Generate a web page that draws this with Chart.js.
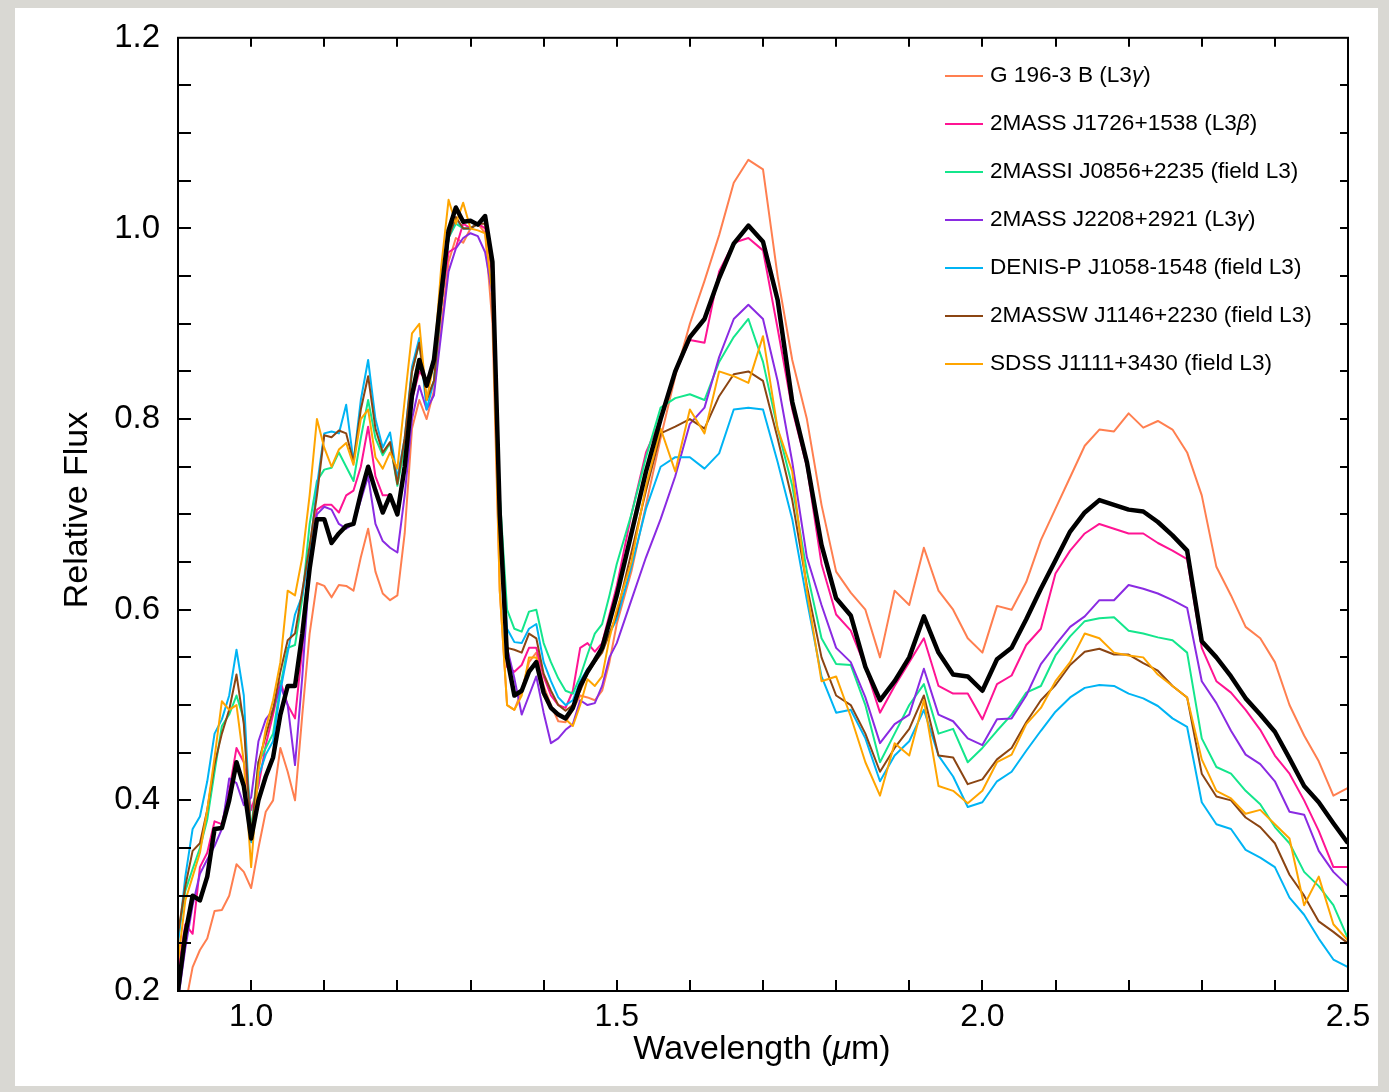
<!DOCTYPE html>
<html>
<head>
<meta charset="utf-8">
<title>Relative Flux spectra</title>
<script src="https://cdn.jsdelivr.net/npm/chart.js@4.4.1/dist/chart.umd.min.js"></script>
<style>
    html, body { margin: 0; padding: 0; }
    body { width: 1389px; height: 1092px; background: #d9d8d3; position: relative; overflow: hidden; }
    #panel { position: absolute; left: 15px; top: 8px; width: 1363px; height: 1078px; background: #fff; }
    #spec { position: absolute; left: 0; top: 0; }
</style>
</head>
<body>
<div id="panel"></div>
<canvas id="spec" width="1389" height="1092"></canvas>
<script>
/* ============================================
   Near-IR spectra of L3 dwarfs — data
   ============================================ */

// Wavelength grid (µm): 0.01 steps to 1.50, then 0.02 steps
const wavelength = [
    0.90, 0.91, 0.92, 0.93, 0.94, 0.95, 0.96, 0.97, 0.98, 0.99,
    1.00, 1.01, 1.02, 1.03, 1.04, 1.05, 1.06, 1.07, 1.08, 1.09,
    1.10, 1.11, 1.12, 1.13, 1.14, 1.15, 1.16, 1.17, 1.18, 1.19,
    1.20, 1.21, 1.22, 1.23, 1.24, 1.25, 1.26, 1.27, 1.28, 1.29,
    1.30, 1.31, 1.32, 1.33, 1.34, 1.35, 1.36, 1.37, 1.38, 1.39,
    1.40, 1.41, 1.42, 1.43, 1.44, 1.45, 1.46, 1.47, 1.48, 1.49,
    1.50,
    1.52, 1.54, 1.56, 1.58, 1.60, 1.62, 1.64, 1.66, 1.68, 1.70,
    1.72, 1.74, 1.76, 1.78, 1.80, 1.82, 1.84, 1.86, 1.88, 1.90,
    1.92, 1.94, 1.96, 1.98, 2.00, 2.02, 2.04, 2.06, 2.08, 2.10,
    2.12, 2.14, 2.16, 2.18, 2.20, 2.22, 2.24, 2.26, 2.28, 2.30,
    2.32, 2.34, 2.36, 2.38, 2.40, 2.42, 2.44, 2.46, 2.48, 2.50
];

// Target spectrum (thick black, not in legend)
const fluxTarget = [
    0.20, 0.26, 0.30, 0.295, 0.32, 0.37, 0.371, 0.40, 0.44, 0.415,
    0.36, 0.40, 0.425, 0.445, 0.49, 0.52, 0.52, 0.575, 0.643, 0.695,
    0.695, 0.67, 0.68, 0.688, 0.69, 0.722, 0.75, 0.725, 0.702, 0.72,
    0.70, 0.75, 0.825, 0.862, 0.835, 0.862, 0.932, 0.998, 1.022, 1.007,
    1.008, 1.004, 1.013, 0.965, 0.70, 0.55, 0.51, 0.515, 0.535, 0.545,
    0.513, 0.497, 0.49, 0.486, 0.497, 0.52, 0.535, 0.547, 0.56, 0.587,
    0.615,
    0.68, 0.745, 0.80, 0.85, 0.886, 0.905, 0.948, 0.984, 1.003, 0.986,
    0.925, 0.818, 0.755, 0.668, 0.612, 0.594, 0.54, 0.505, 0.525, 0.55,
    0.593, 0.555, 0.532, 0.53, 0.515, 0.548, 0.56, 0.59, 0.622, 0.652,
    0.682, 0.702, 0.715, 0.71, 0.705, 0.703, 0.692, 0.678, 0.662, 0.567,
    0.55, 0.53, 0.507, 0.49, 0.472, 0.444, 0.415, 0.398, 0.376, 0.355
];

const fluxG196 = [
    0.16, 0.185, 0.225, 0.243, 0.255, 0.284, 0.285, 0.30, 0.333, 0.325,
    0.308, 0.35, 0.388, 0.40, 0.455, 0.43, 0.40, 0.49, 0.575, 0.628,
    0.625, 0.613, 0.626, 0.625, 0.62, 0.655, 0.685, 0.64, 0.617, 0.61,
    0.615, 0.68, 0.79, 0.82, 0.80, 0.83, 0.90, 0.965, 0.99, 0.985,
    1.0, 1.005, 0.995, 0.90, 0.62, 0.50, 0.495, 0.515, 0.545, 0.555,
    0.52, 0.50, 0.483, 0.482, 0.495, 0.51, 0.508, 0.505, 0.515, 0.545,
    0.585,
    0.64, 0.71, 0.78, 0.845, 0.90, 0.945, 0.993, 1.048, 1.072, 1.062,
    0.95, 0.862, 0.80, 0.71, 0.64, 0.618, 0.60, 0.55, 0.62, 0.605,
    0.665, 0.62, 0.60, 0.57, 0.555, 0.604, 0.60, 0.629, 0.673, 0.706,
    0.739, 0.772, 0.789, 0.787, 0.806, 0.791, 0.798, 0.789, 0.765, 0.72,
    0.645, 0.615, 0.582, 0.57, 0.545, 0.50, 0.468, 0.441, 0.405, 0.413
];

const fluxJ1726 = [
    0.22, 0.27, 0.26, 0.33, 0.345, 0.378, 0.375, 0.41, 0.455, 0.44,
    0.39, 0.415, 0.458, 0.49, 0.525, 0.50, 0.486, 0.56, 0.66, 0.705,
    0.71, 0.71, 0.702, 0.72, 0.725, 0.75, 0.792, 0.74, 0.72, 0.72,
    0.70, 0.75, 0.82, 0.85, 0.84, 0.86, 0.92, 0.975, 0.98, 1.005,
    1.0, 1.005, 1.0, 0.95, 0.68, 0.54, 0.535, 0.542, 0.56, 0.56,
    0.53, 0.51, 0.50, 0.497, 0.515, 0.56, 0.565, 0.556, 0.565, 0.595,
    0.625,
    0.70, 0.765, 0.80, 0.848, 0.883, 0.88, 0.955, 0.985, 0.99, 0.977,
    0.895, 0.81, 0.75, 0.648, 0.595, 0.578, 0.54, 0.492, 0.52, 0.545,
    0.57, 0.52, 0.512, 0.512, 0.485, 0.522, 0.531, 0.563, 0.58, 0.638,
    0.662, 0.68, 0.69, 0.685, 0.68, 0.68, 0.67, 0.662, 0.653, 0.56,
    0.525, 0.513, 0.495, 0.474, 0.447, 0.428, 0.40, 0.368, 0.33, 0.33
];

const fluxJ0856 = [
    0.255, 0.305, 0.328, 0.35, 0.38, 0.43, 0.478, 0.49, 0.51, 0.485,
    0.368, 0.44, 0.455, 0.47, 0.52, 0.56, 0.563, 0.612, 0.69, 0.735,
    0.747, 0.749, 0.765, 0.75, 0.735, 0.78, 0.82, 0.78, 0.762, 0.775,
    0.73, 0.77, 0.85, 0.88, 0.82, 0.84, 0.92, 0.99, 1.005, 1.0,
    1.0, 1.005, 1.01, 0.96, 0.72, 0.60, 0.58, 0.577, 0.598, 0.60,
    0.565, 0.545, 0.528, 0.515, 0.512, 0.53, 0.553, 0.575, 0.585, 0.615,
    0.648,
    0.70, 0.76, 0.812, 0.822, 0.826, 0.82, 0.86, 0.886, 0.905, 0.86,
    0.79, 0.73, 0.64, 0.57, 0.543, 0.542, 0.50, 0.44, 0.47, 0.50,
    0.522, 0.47, 0.475, 0.44, 0.455, 0.473, 0.49, 0.513, 0.52, 0.552,
    0.572, 0.588, 0.591, 0.592, 0.578, 0.575, 0.571, 0.568, 0.555, 0.465,
    0.435, 0.428, 0.41, 0.396, 0.372, 0.355, 0.325, 0.31, 0.29, 0.255
];

const fluxJ2208 = [
    0.19, 0.245, 0.29, 0.323, 0.338, 0.352, 0.37, 0.423, 0.418, 0.395,
    0.403, 0.462, 0.485, 0.495, 0.52, 0.50, 0.437, 0.53, 0.645, 0.70,
    0.708, 0.705, 0.69, 0.685, 0.69, 0.715, 0.74, 0.69, 0.672, 0.665,
    0.66, 0.72, 0.80, 0.835, 0.81, 0.825, 0.89, 0.955, 0.979, 0.99,
    0.995, 0.992, 0.975, 0.93, 0.70, 0.56, 0.528, 0.49, 0.51, 0.53,
    0.492, 0.46, 0.465, 0.474, 0.48, 0.505, 0.50, 0.502, 0.52, 0.55,
    0.565,
    0.61, 0.655, 0.695, 0.74, 0.795, 0.812, 0.865, 0.905, 0.92, 0.905,
    0.84, 0.755, 0.655, 0.605, 0.56, 0.545, 0.508, 0.46, 0.48, 0.49,
    0.538, 0.49, 0.483, 0.465, 0.458, 0.485, 0.486, 0.51, 0.543, 0.563,
    0.582, 0.593, 0.61, 0.61, 0.626, 0.622, 0.617, 0.61, 0.602, 0.525,
    0.502, 0.473, 0.448, 0.438, 0.42, 0.388, 0.385, 0.347, 0.325, 0.31
];

const fluxJ1058 = [
    0.25, 0.32, 0.37, 0.383, 0.42, 0.47, 0.485, 0.51, 0.558, 0.51,
    0.356, 0.425, 0.448, 0.462, 0.515, 0.555, 0.595, 0.615, 0.66, 0.73,
    0.785, 0.787, 0.785, 0.815, 0.755, 0.82, 0.862, 0.80, 0.77, 0.786,
    0.738, 0.78, 0.855, 0.885, 0.81, 0.84, 0.92, 0.99, 1.01, 1.0,
    1.0, 1.005, 1.01, 0.96, 0.70, 0.58, 0.566, 0.565, 0.58, 0.585,
    0.545, 0.525, 0.508, 0.50, 0.505, 0.525, 0.538, 0.546, 0.56, 0.575,
    0.59,
    0.645, 0.706, 0.75, 0.76, 0.76, 0.748, 0.764, 0.81, 0.812, 0.81,
    0.755, 0.695, 0.61, 0.53, 0.492, 0.495, 0.465, 0.42, 0.447, 0.462,
    0.495, 0.447, 0.425, 0.393, 0.398, 0.42, 0.43, 0.452, 0.473, 0.493,
    0.508, 0.518, 0.521, 0.52, 0.512, 0.507, 0.499, 0.486, 0.477, 0.398,
    0.375, 0.37, 0.348, 0.34, 0.33, 0.298, 0.28, 0.255, 0.233, 0.225
];

const fluxJ1146 = [
    0.26, 0.31, 0.347, 0.355, 0.39, 0.438, 0.47, 0.495, 0.532, 0.48,
    0.362, 0.44, 0.468, 0.495, 0.535, 0.568, 0.575, 0.62, 0.667, 0.72,
    0.783, 0.781, 0.788, 0.785, 0.755, 0.81, 0.845, 0.79, 0.765, 0.776,
    0.732, 0.78, 0.85, 0.88, 0.82, 0.84, 0.92, 0.99, 1.012, 1.0,
    1.0, 1.005, 1.005, 0.955, 0.68, 0.56, 0.558, 0.555, 0.575, 0.57,
    0.533, 0.515, 0.50, 0.494, 0.50, 0.515, 0.533, 0.545, 0.555, 0.575,
    0.595,
    0.66, 0.725, 0.785, 0.792, 0.80, 0.79, 0.824, 0.847, 0.85, 0.84,
    0.78, 0.715, 0.625, 0.55, 0.51, 0.50, 0.47, 0.43, 0.455, 0.475,
    0.51, 0.447, 0.445, 0.417, 0.422, 0.443, 0.455, 0.482, 0.505, 0.521,
    0.542, 0.556, 0.559, 0.553, 0.553, 0.544, 0.536, 0.52, 0.508, 0.428,
    0.404, 0.40, 0.382, 0.372, 0.355, 0.322, 0.30, 0.273, 0.262, 0.25
];

const fluxJ1111 = [
    0.23, 0.295, 0.32, 0.345, 0.39, 0.445, 0.504, 0.495, 0.50, 0.44,
    0.33, 0.43, 0.475, 0.505, 0.545, 0.62, 0.615, 0.655, 0.72, 0.80,
    0.77, 0.75, 0.768, 0.775, 0.752, 0.80, 0.81, 0.76, 0.748, 0.765,
    0.748, 0.82, 0.89, 0.90, 0.82, 0.86, 0.96, 1.03, 1.005, 1.027,
    1.0, 0.998, 0.995, 0.93, 0.62, 0.50, 0.495, 0.51, 0.55, 0.55,
    0.51, 0.496, 0.49, 0.485, 0.478, 0.50, 0.527, 0.52, 0.53, 0.57,
    0.60,
    0.65, 0.73, 0.79, 0.745, 0.81, 0.785, 0.85, 0.845, 0.838, 0.887,
    0.79, 0.745, 0.62, 0.525, 0.53, 0.488, 0.44, 0.405, 0.46, 0.447,
    0.505, 0.415, 0.41, 0.397, 0.41, 0.44, 0.448, 0.48, 0.497, 0.525,
    0.545, 0.575, 0.57, 0.555, 0.552, 0.55, 0.532, 0.52, 0.508, 0.443,
    0.41, 0.402, 0.386, 0.39, 0.375, 0.36, 0.29, 0.32, 0.27, 0.253
];

// Axis labels and tick marks
const xTickLabels = [1.0, 1.5, 2.0, 2.5];
const yTickLabels = [0.2, 0.4, 0.6, 0.8, 1.0, 1.2];
const xTickMarks = [1.0, 1.1, 1.2, 1.3, 1.4, 1.5, 1.6, 1.7, 1.8, 1.9, 2.0, 2.1, 2.2, 2.3, 2.4];
const yTickMarks = [0.25, 0.3, 0.35, 0.4, 0.45, 0.5, 0.55, 0.6, 0.65, 0.7, 0.75, 0.8, 0.85, 0.9, 0.95, 1.0, 1.05, 1.1, 1.15];

// Series: label, color, values (legend order)
const seriesLabels = [
    'G 196-3 B (L3γ)',
    '2MASS J1726+1538 (L3β)',
    '2MASSI J0856+2235 (field L3)',
    '2MASS J2208+2921 (L3γ)',
    'DENIS-P J1058-1548 (field L3)',
    '2MASSW J1146+2230 (field L3)',
    'SDSS J1111+3430 (field L3)'
];
const seriesColors = ['#ff7f50', '#ff1493', '#14e68c', '#8a2be2', '#00b4f4', '#8b4513', '#ffa500'];
const seriesValues = [fluxG196, fluxJ1726, fluxJ0856, fluxJ2208, fluxJ1058, fluxJ1146, fluxJ1111];
const seriesOrder = [7, 6, 5, 4, 3, 2, 1];

/* ============================================
   Chart
   ============================================ */

const FONT = '"Liberation Sans", Arial, Helvetica, sans-serif';
Chart.defaults.font.family = FONT;
Chart.defaults.color = '#000';

const toPoints = vals => wavelength.map((w, i) => ({ x: w, y: vals[i] }));

const datasets = seriesLabels.map((label, i) => ({
    label,
    data: toPoints(seriesValues[i]),
    borderColor: seriesColors[i],
    borderWidth: 2,
    order: seriesOrder[i],
    inLegend: true
}));
datasets.push({
    label: 'target',
    data: toPoints(fluxTarget),
    borderColor: '#000',
    borderWidth: 4.5,
    order: 0,
    inLegend: false
});

// Text with italic greek letters (γ, β, µ)
function drawRich(ctx, text, x, y, size) {
    text.split(/([γβμ])/).forEach(part => {
        if (!part) return;
        const greek = /[γβμ]/.test(part);
        ctx.font = (greek ? 'italic ' : '') + size + 'px ' + FONT;
        ctx.fillText(part, x, y);
        x += ctx.measureText(part).width;
    });
}
function richWidth(ctx, text, size) {
    let w = 0;
    text.split(/([γβμ])/).forEach(part => {
        if (!part) return;
        ctx.font = (/[γβμ]/.test(part) ? 'italic ' : '') + size + 'px ' + FONT;
        w += ctx.measureText(part).width;
    });
    return w;
}

const framePlugin = {
    id: 'frame',
    afterDatasetsDraw(chart) {
        const { ctx, chartArea: a, scales: { x, y } } = chart;
        ctx.save();
        ctx.strokeStyle = '#000';
        ctx.lineWidth = 2;
        ctx.strokeRect(a.left, a.top, a.right - a.left, a.bottom - a.top);
        ctx.beginPath();
        xTickMarks.forEach(v => {
            const px = Math.round(x.getPixelForValue(v));
            ctx.moveTo(px, a.bottom); ctx.lineTo(px, a.bottom - 11);
            ctx.moveTo(px, a.top); ctx.lineTo(px, a.top + 9);
        });
        yTickMarks.forEach(v => {
            const py = Math.round(y.getPixelForValue(v));
            ctx.moveTo(a.left, py); ctx.lineTo(a.left + 13, py);
            ctx.moveTo(a.right, py); ctx.lineTo(a.right - 8, py);
        });
        ctx.stroke();

        // axis titles
        ctx.fillStyle = '#000';
        ctx.textBaseline = 'middle';
        ctx.textAlign = 'left';
        const xt = 'Wavelength (μm)';
        drawRich(ctx, xt, 762 - richWidth(ctx, xt, 34) / 2, 1050, 34);
        ctx.save();
        ctx.translate(78, 510);
        ctx.rotate(-Math.PI / 2);
        ctx.textAlign = 'center';
        ctx.font = '34px ' + FONT;
        ctx.fillText('Relative Flux', 0, 0);
        ctx.restore();

        // legend
        chart.data.datasets.filter(d => d.inLegend).forEach((d, i) => {
            const ly = 76 + i * 48;
            ctx.strokeStyle = d.borderColor;
            ctx.lineWidth = 2;
            ctx.beginPath();
            ctx.moveTo(945, ly); ctx.lineTo(983, ly);
            ctx.stroke();
            ctx.fillStyle = '#000';
            ctx.textAlign = 'left';
            drawRich(ctx, d.label, 990, ly, 22.6);
        });
        ctx.restore();
    }
};

new Chart(document.getElementById('spec'), {
    type: 'line',
    data: { datasets },
    options: {
        responsive: false,
        animation: false,
        layout: { padding: { top: 33, right: 41, left: 0, bottom: 0 } },
        elements: { point: { radius: 0 }, line: { tension: 0, borderJoinStyle: 'round' } },
        plugins: { legend: { display: false }, tooltip: { enabled: false } },
        scales: {
            x: {
                type: 'linear', min: 0.9, max: 2.5,
                afterBuildTicks: s => { s.ticks = xTickLabels.map(v => ({ value: v })); },
                afterFit: s => { s.height = 101; },
                grid: { display: false, drawTicks: false },
                border: { display: false },
                ticks: { font: { size: 32 }, color: '#000', padding: 7, maxRotation: 0, autoSkip: false,
                    callback: v => Number(v).toFixed(1) }
            },
            y: {
                type: 'linear', min: 0.2, max: 1.2,
                afterBuildTicks: s => { s.ticks = yTickLabels.map(v => ({ value: v })); },
                afterFit: s => { s.width = 178; },
                grid: { display: false, drawTicks: false },
                border: { display: false },
                ticks: { font: { size: 33 }, color: '#000', padding: 18, autoSkip: false,
                    callback: v => Number(v).toFixed(1) }
            }
        }
    },
    plugins: [framePlugin]
});
</script>
</body>
</html>
